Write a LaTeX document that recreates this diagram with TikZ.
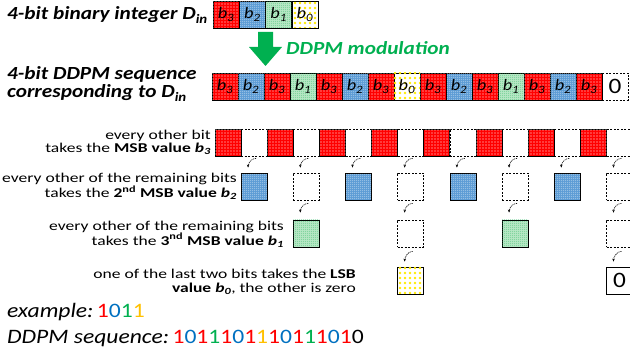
\documentclass[tikz,border=0pt]{standalone}
\usepackage{fontspec}
\setmainfont{Carlito}
\newfontfamily\labfont[FakeStretch=1.3]{Carlito}
\newfontfamily\headfont[FakeStretch=1.15]{Carlito}
\usetikzlibrary{patterns,calc,arrows.meta}
\pgfdeclarepatternformonly{reddots}{\pgfpoint{-1.5pt}{-1.5pt}}{\pgfpoint{1.5pt}{1.5pt}}{\pgfpoint{3pt}{3pt}}{\pgfpathcircle{\pgfpointorigin}{.6pt}\pgfusepath{fill}}
\pgfdeclarepatternformonly{densedots}{\pgfpoint{-1.1pt}{-1.1pt}}{\pgfpoint{1.1pt}{1.1pt}}{\pgfpoint{2.2pt}{2.2pt}}{\pgfpathcircle{\pgfpointorigin}{.55pt}\pgfusepath{fill}}
\pgfdeclarepatternformonly{sparsedots}{\pgfpoint{-2.5pt}{-2.5pt}}{\pgfpoint{2.5pt}{2.5pt}}{\pgfpoint{5pt}{5pt}}{\pgfpathcircle{\pgfpointorigin}{1.3pt}\pgfusepath{fill}}
\definecolor{redC}{RGB}{255,0,0}
\definecolor{blueC}{RGB}{91,155,213}
\definecolor{greenC}{RGB}{185,232,198}
\definecolor{greenD}{RGB}{30,180,90}
\definecolor{yellowC}{RGB}{255,235,0}
\definecolor{arrowgreen}{RGB}{0,176,80}
\definecolor{dblue}{RGB}{0,112,192}
\definecolor{dgreen}{RGB}{0,176,80}
\definecolor{dyellow}{RGB}{255,192,0}
\newcommand{\bl}[1]{\textit{b}\textsubscript{\textit{#1}}}
\begin{document}
\begin{tikzpicture}[x=1pt,y=-1pt,
  bitbox/.style={minimum width=26pt, minimum height=27pt, inner sep=0pt, line width=0.8pt,
    font=\headfont\fontsize{16}{18}\selectfont},
  rbit/.style={bitbox, draw, fill=redC, postaction={pattern=reddots, pattern color=white}},
  bbit/.style={bitbox, draw, fill=blueC, postaction={pattern=densedots, pattern color=white}},
  gbit/.style={bitbox, draw, fill=greenC, postaction={pattern=densedots, pattern color=greenD}},
  ybit/.style={bitbox, draw, fill=white, postaction={pattern=sparsedots, pattern color=yellowC}},
  ebit/.style={bitbox, draw, dash pattern=on 2pt off 1.5pt, line width=0.6pt},
  zbit/.style={bitbox, draw, font=\headfont\fontsize{22}{24}\selectfont},
  kind3/.style={rbit, node contents={\bl{3}}},
  kind2/.style={bbit, node contents={\bl{2}}},
  kind1/.style={gbit, node contents={\bl{1}}},
  kind0/.style={ybit, node contents={\bl{0}}},
  kindz/.style={ebit, font=\headfont\fontsize{22}{24}\selectfont, node contents={0}},
  lab/.style={anchor=east, align=right, inner sep=0pt, font=\labfont\fontsize{13.5}{13.3}\selectfont},
  minarr/.style={dash pattern=on 1.2pt off 0.8pt, line width=0.6pt, -{Stealth[length=3pt,width=2.5pt]}},
  head/.style={anchor=west, align=left, inner sep=0pt, font=\headfont\fontsize{18.5}{18}\selectfont\bfseries\itshape}
]
\useasboundingbox (0,0) rectangle (630,358);

% top: binary integer
\node[head] (h1) at (7,15) {4-bit binary integer D\textsubscript{in}};
\node (t0) at (226,14.5) [kind3];
\node (t1) at (252.3,14.5) [kind2];
\node (t2) at (278.6,14.5) [kind1];
\node (t3) at (304.9,14.5) [kind0];

% modulation arrow
\fill[arrowgreen] (258,32) -- (273,32) -- (273,47) -- (282,47) -- (265.5,66) -- (249,47) -- (258,47) -- cycle;
\node[head, text=arrowgreen] (mod) at (286,48) {DDPM modulation};

% DDPM sequence
\node[head] (h2) at (7,84) {4-bit DDPM sequence\\corresponding to D\textsubscript{in}};
\foreach \i/\t in {0/3,1/2,2/3,3/1,4/3,5/2,6/3,7/0,8/3,9/2,10/3,11/1,12/3,13/2,14/3,15/z}
  \node (s\i) at (225+26*\i,86.5) [kind\t];

% row 1
\foreach \i in {1,3,...,15} \node[ebit] (a\i) at (228+26.1*\i,142.5) {};
\foreach \i in {0,2,...,14} \node[rbit] (a\i) at (228+26.1*\i,142.5) {};
\node[lab] (l1) at (211,142.5) {every other bit\\takes the \textbf{MSB value \textit{b\textsubscript{3}}}};

% row 2
\foreach \i in {1,5,9,13} \node[bbit] (b\i) at (228+26.1*\i,186.5) {};
\foreach \i in {3,7,11,15} \node[ebit] (b\i) at (228+26.1*\i,186.5) {};
\foreach \i in {1,3,...,15} \draw[minarr] ($(a\i.south)+(2,2)$) .. controls +(-5,0) and +(0,-4) .. ($(b\i.north)+(-6,-5)$);
\node[lab] (l2) at (237,186.5) {every other of the remaining bits\\takes the \textbf{2\textsuperscript{nd} MSB value \textit{b\textsubscript{2}}}};

% row 3
\foreach \i in {3,11} \node[gbit] (c\i) at (228+26.1*\i,233.5) {};
\foreach \i in {7,15} \node[ebit] (c\i) at (228+26.1*\i,233.5) {};
\foreach \i in {3,7,11,15} \draw[minarr] ($(b\i.south)+(2,3)$) .. controls +(-5,0) and +(0,-4) .. ($(c\i.north)+(-6,-7)$);
\node[lab] (l3) at (284,234) {every other of the remaining bits\\takes the \textbf{3\textsuperscript{nd} MSB value \textit{b\textsubscript{1}}}};

% row 4
\node[ybit] (d7) at (228+26.1*7,280.5) {};
\node[zbit] (d15) at (228+26.1*15,280.5) {0};
\foreach \i in {7,15} \draw[minarr] ($(c\i.south)+(2,4)$) .. controls +(-5,0) and +(0,-4) .. ($(d\i.north)+(-6,-5)$);
\node[lab] (l4) at (356,282) {one of the last two bits takes the \textbf{LSB}\\\textbf{value \textit{b\textsubscript{0}}}, the other is zero};

% example
\node[anchor=west, inner sep=0pt, font=\headfont\fontsize{20.5}{22}\selectfont] (ex) at (7,312)
  {\textit{example:}\,\textcolor{redC}{1}\textcolor{dblue}{0}\textcolor{dgreen}{1}\textcolor{dyellow}{1}};
\node[anchor=west, inner sep=0pt, font=\headfont\fontsize{20.5}{22}\selectfont] (seq) at (7,339)
  {\textit{DDPM sequence:}\,\textcolor{redC}{1}\textcolor{dblue}{0}\textcolor{redC}{1}\textcolor{dgreen}{1}\textcolor{redC}{1}\textcolor{dblue}{0}\textcolor{redC}{1}\textcolor{dyellow}{1}\textcolor{redC}{1}\textcolor{dblue}{0}\textcolor{redC}{1}\textcolor{dgreen}{1}\textcolor{redC}{1}\textcolor{dblue}{0}\textcolor{redC}{1}0};
\end{tikzpicture}
\end{document}
